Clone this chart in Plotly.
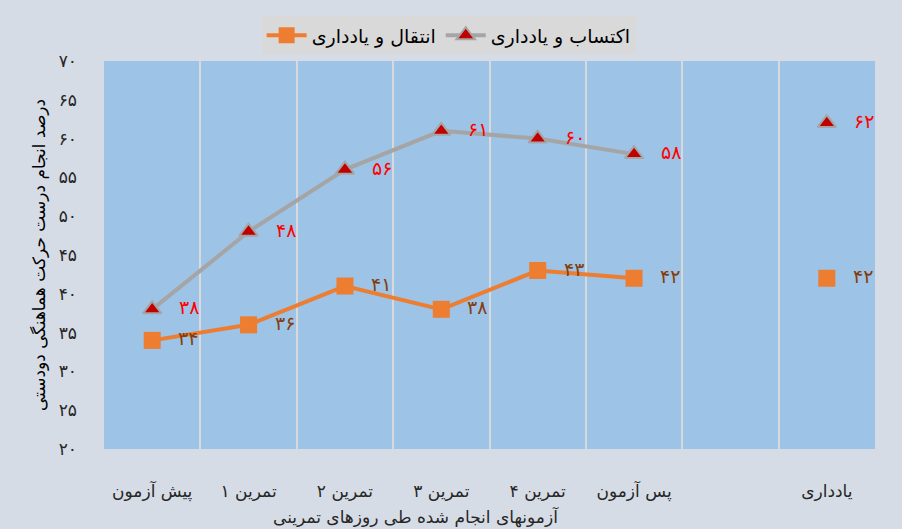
import plotly.graph_objects as go

categories = ["پیش آزمون", "تمرین ۱", "تمرین ۲", "تمرین ۳", "تمرین ۴", "پس آزمون", " ", "یادداری"]
acq_name = "اکتساب و یادداری"
trans_name = "انتقال و یادداری"
acq_values = [38, 48, 56, 61, 60, 58, None, 62]
trans_values = [34, 36, 41, 38, 43, 42, None, 42]
ytick_vals = [20, 25, 30, 35, 40, 45, 50, 55, 60, 65, 70]
ytick_text = ["۲۰", "۲۵", "۳۰", "۳۵", "۴۰", "۴۵", "۵۰", "۵۵", "۶۰", "۶۵", "۷۰"]
y_title = "درصد انجام درست حرکت هماهنگی دودستی"
x_title = "آزمونهای انجام شده طی روزهای تمرینی"

fa_digits = str.maketrans("0123456789", "۰۱۲۳۴۵۶۷۸۹")
FONT = "DejaVu Sans"

fig = go.Figure()
fig.add_trace(go.Scatter(
    x=categories, y=trans_values, name=trans_name, mode="lines+markers",
    line=dict(color="#ED7D31", width=4),
    marker=dict(symbol="square", size=17, color="#ED7D31"),
    connectgaps=False,
))
fig.add_trace(go.Scatter(
    x=categories, y=acq_values, name=acq_name, mode="lines+markers",
    line=dict(color="#A5A5A5", width=4),
    marker=dict(symbol="triangle-up", size=16, color="#C00000",
                line=dict(color="#A5A5A5", width=2)),
    connectgaps=False,
))

annotations = []
for cat, v in zip(categories, acq_values):
    if v is not None:
        annotations.append(dict(x=cat, y=v, text=str(v).translate(fa_digits), showarrow=False,
                                xshift=37, yshift=2, font=dict(family=FONT, size=19, color="#FF0000")))
for cat, v in zip(categories, trans_values):
    if v is not None:
        annotations.append(dict(x=cat, y=v, text=str(v).translate(fa_digits), showarrow=False,
                                xshift=36, yshift=2, font=dict(family=FONT, size=19, color="#843C0C")))
annotations.append(dict(x=0.405, y=0, xref="paper", yref="paper", yshift=-68, text=x_title,
                        showarrow=False, xanchor="center", yanchor="middle",
                        font=dict(family=FONT, size=17, color="#262626")))

fig.update_layout(
    width=902, height=529,
    paper_bgcolor="#D6DCE5", plot_bgcolor="#9DC3E6",
    margin=dict(l=104, r=27, t=61, b=80),
    font=dict(family=FONT, size=15, color="#262626"),
    showlegend=True,
    legend=dict(orientation="h", x=0.447, xanchor="center", y=1.115, yanchor="top",
                bgcolor="#D9D9D9", font=dict(family=FONT, size=19, color="#000000"),
                itemwidth=40),
    annotations=annotations,
    xaxis=dict(type="category", categoryorder="array", categoryarray=categories,
               tickvals=categories, ticktext=[c.strip() for c in categories],
               tickson="boundaries", showgrid=True, gridcolor="#D9D9D9", gridwidth=2,
               ticks="", ticklabelstandoff=30,
               showline=False, zeroline=False, tickfont=dict(size=17),
               range=[-0.5, 7.5], automargin=False),
    yaxis=dict(range=[20, 70], tickvals=ytick_vals, ticktext=ytick_text, showgrid=False,
               zeroline=False, showline=False, ticks="", ticklabelstandoff=26,
               tickfont=dict(size=17), automargin=False,
               title=dict(text=y_title, font=dict(family=FONT, size=17, color="#000000"), standoff=8)),
)

fig.write_html("out.html", post_script="document.body.style.margin='0';",
               config={"displayModeBar": False})
